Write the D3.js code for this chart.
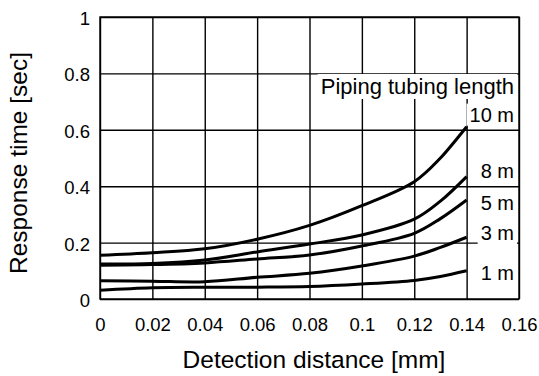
<!DOCTYPE html>
<html>
<head>
<meta charset="utf-8">
<script src="https://cdn.jsdelivr.net/npm/d3@7"></script>
<style>
    body { margin: 0; background: #fff; }
    svg { display: block; font-family: "Liberation Sans", Arial, sans-serif; }
</style>
</head>
<body>
<svg id="drawing_region"></svg>
<script>
// detection distance [mm] where each curve was read
const distance = [0, 0.02, 0.04, 0.06, 0.08, 0.10, 0.12, 0.13, 0.14];

// response time [sec] per piping tubing length
const tube10m = [0.155, 0.164, 0.178, 0.212, 0.261, 0.331, 0.416, 0.500, 0.611];
const tube8m  = [0.124, 0.126, 0.138, 0.167, 0.195, 0.227, 0.283, 0.347, 0.434];
const tube5m  = [0.120, 0.122, 0.128, 0.142, 0.156, 0.188, 0.233, 0.285, 0.351];
const tube3m  = [0.065, 0.063, 0.061, 0.077, 0.091, 0.117, 0.152, 0.183, 0.219];
const tube1m  = [0.031, 0.040, 0.042, 0.042, 0.044, 0.053, 0.066, 0.080, 0.100];

const seriesNames = ["10 m", "8 m", "5 m", "3 m", "1 m"];
const seriesValues = [tube10m, tube8m, tube5m, tube3m, tube1m];

const xTicks = [0, 0.02, 0.04, 0.06, 0.08, 0.10, 0.12, 0.14, 0.16];
const xTickLabels = ["0", "0.02", "0.04", "0.06", "0.08", "0.1", "0.12", "0.14", "0.16"];
const yTicks = [0, 0.2, 0.4, 0.6, 0.8, 1];
const yTickLabels = ["0", "0.2", "0.4", "0.6", "0.8", "1"];

const legendTitle = "Piping tubing length";
const xTitle = "Detection distance [mm]";
const yTitle = "Response time [sec]";

// layout
const width = 539, height = 376;
const margin = {top: 17, right: 20, bottom: 77, left: 100};
const innerW = width - margin.left - margin.right;
const innerH = height - margin.top - margin.bottom;
// label baselines, in response-time units
const labelAt = [0.629, 0.429, 0.316, 0.209, 0.067];
const titleAt = 0.727;

const svg = d3.select("#drawing_region")
    .attr("width", width)
    .attr("height", height);
const chart = svg.append("g")
    .attr("transform", `translate(${margin.left},${margin.top})`);

const xscale = d3.scaleLinear().domain([0, 0.16]).range([0, innerW]);
const yscale = d3.scaleLinear().domain([0, 1]).range([innerH, 0]);

// grid via axes
const xaxis = d3.axisBottom(xscale)
    .tickValues(xTicks)
    .tickFormat((d, i) => xTickLabels[i])
    .tickSize(-innerH)
    .tickPadding(19);
const yaxis = d3.axisLeft(yscale)
    .tickValues(yTicks)
    .tickFormat((d, i) => yTickLabels[i])
    .tickSize(-innerW)
    .tickPadding(10);

const xg = chart.append("g")
    .attr("transform", `translate(0,${innerH})`)
    .call(xaxis);
const yg = chart.append("g").call(yaxis);

[xg, yg].forEach(g => {
    g.select(".domain").remove();
    g.selectAll(".tick line").attr("stroke", "#000").attr("stroke-width", 1.4);
    g.selectAll(".tick text")
        .attr("fill", "#000")
        .attr("font-size", 18.5)
        .attr("font-family", "Liberation Sans, Arial, sans-serif");
});
yg.selectAll(".tick text").attr("dy", "0.4em");

chart.append("rect")
    .attr("width", innerW)
    .attr("height", innerH)
    .attr("fill", "none")
    .attr("stroke", "#000")
    .attr("stroke-width", 1.4);

// curves
const line = d3.line()
    .x((d, i) => xscale(distance[i]))
    .y(d => yscale(d))
    .curve(d3.curveCatmullRom.alpha(0.5));

chart.selectAll(".curve")
    .data(seriesValues)
    .enter()
    .append("path")
    .attr("class", "curve")
    .attr("d", d => line(d))
    .attr("fill", "none")
    .attr("stroke", "#000")
    .attr("stroke-width", 3);

// labels with white boxes that hide the grid
const labelRight = innerW - 5;
function boxedLabel(txt, y, size) {
    const g = chart.append("g");
    const t = g.append("text")
        .attr("x", labelRight)
        .attr("y", y)
        .attr("text-anchor", "end")
        .attr("font-size", size)
        .attr("fill", "#000")
        .text(txt);
    const bb = t.node().getBBox();
    g.insert("rect", "text")
        .attr("x", bb.x - 3)
        .attr("y", bb.y)
        .attr("width", bb.width + 6)
        .attr("height", bb.height)
        .attr("fill", "#fff");
}

boxedLabel(legendTitle, yscale(titleAt), 22);
seriesNames.forEach((name, i) => boxedLabel(name, yscale(labelAt[i]), 20));

// axis titles
svg.append("text")
    .attr("x", 314)
    .attr("y", 368)
    .attr("text-anchor", "middle")
    .attr("font-size", 24.5)
    .text(xTitle);

svg.append("text")
    .attr("transform", "rotate(-90)")
    .attr("x", -163)
    .attr("y", 27)
    .attr("text-anchor", "middle")
    .attr("font-size", 24.5)
    .text(yTitle);
</script>
</body>
</html>
